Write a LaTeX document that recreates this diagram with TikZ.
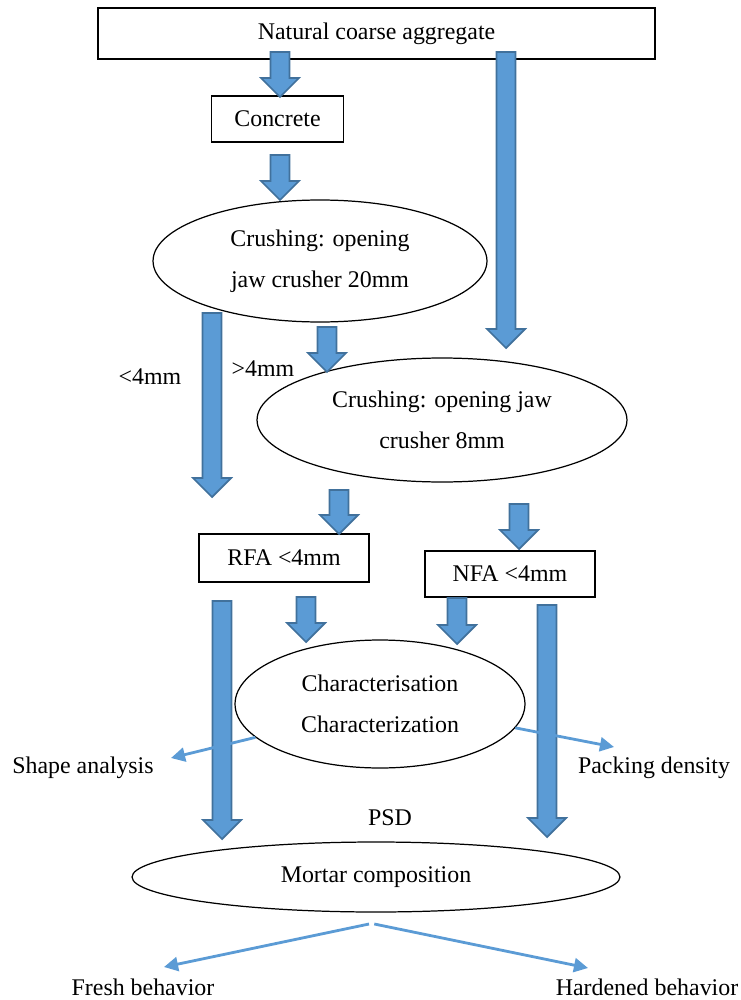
\documentclass[tikz,border=0pt]{standalone}
\usepackage{fontspec}
\setmainfont{Liberation Serif}
\usetikzlibrary{arrows.meta,shapes.geometric}
\definecolor{flowblue}{HTML}{5B9BD5}
\definecolor{flowedge}{HTML}{41719C}

\begin{document}
\begin{tikzpicture}[x=0.02cm, y=-0.02cm, font=\fontsize{13.6}{23.2}\selectfont,
  box/.style={draw, line width=0.7pt, inner sep=0pt},
  oval/.style={draw, ellipse, line width=0.7pt, inner sep=0pt, align=center},
  lbl/.style={inner sep=0pt},
  blockarr/.style={fill=flowblue, draw=flowedge, line width=1pt, line join=miter},
  thinarr/.style={draw=flowblue, line width=1.6pt, -{Triangle[length=8pt,width=8pt]}}]
  \useasboundingbox (0,0) rectangle (740,1000);
  % Boxes
  \node[box, minimum width=11.14cm, minimum height=1.02cm] (natural) at (376.5,33.5) {Natural coarse aggregate};
  \node[box, minimum width=2.65cm, minimum height=0.92cm] (concrete) at (277.5,119) {Concrete};
  \node[box, minimum width=3.4cm, minimum height=0.96cm] (rfa) at (284,558) {RFA <4mm};
  \node[box, minimum width=3.4cm, minimum height=0.92cm] (nfa) at (510,574) {NFA <4mm};
  % Ellipses
  \node[oval, minimum width=6.68cm, minimum height=2.44cm] (crushA) at (320,261) {Crushing: opening\\jaw crusher 20mm};
  \node[oval, minimum width=7.4cm, minimum height=2.48cm] (crushB) at (442,420) {Crushing: opening jaw\\crusher 8mm};
  \node[oval, minimum width=5.8cm, minimum height=2.56cm] (char) at (380,704) {Characterisation\\Characterization};
  \node[oval, minimum width=9.76cm, minimum height=1.4cm] (mortar) at (376,877) {Mortar composition};
  % Block arrows: x / top / tip
  \foreach \x/\ytop/\ybot in {280/52/97, 506/52/348, 280/155/200, 212/313/497, 327/327/372,
    339/490/534, 519/504/549, 306/597/642, 457/598/644, 222/601/839, 547/605/837} {
    \draw[blockarr] (\x-9.5,\ytop) -- (\x+9.5,\ytop) -- (\x+9.5,\ybot-19) -- (\x+19,\ybot-19)
      -- (\x,\ybot) -- (\x-19,\ybot-19) -- (\x-9.5,\ybot-19) -- cycle;
  }
  % Labels
  \node[lbl] (fine) at (150,377) {<4mm};
  \node[lbl] (coarse) at (263,369) {>4mm};
  \node[lbl] (psd) at (390,818) {PSD};
  \node[lbl] (shape) at (83,768) {Shape analysis};
  \node[lbl] (packing) at (654,768) {Packing density};
  \node[lbl] (fresh) at (143,987) {Fresh behavior};
  \node[lbl] (hardened) at (647,987) {Hardened behavior};
  % Thin arrows
  \coordinate (shapeend) at (171,758);
  \coordinate (packend) at (614,747);
  \coordinate (split) at (369,924);
  \coordinate (freshend) at (164,967);
  \coordinate (hardend) at (588,968);
  \draw[thinarr] (char.195) -- (shapeend);
  \draw[thinarr] (char.350) -- (packend);
  \draw[thinarr] (split) -- (freshend);
  \draw[thinarr] ([xshift=3]split) -- (hardend);
\end{tikzpicture}
\end{document}
